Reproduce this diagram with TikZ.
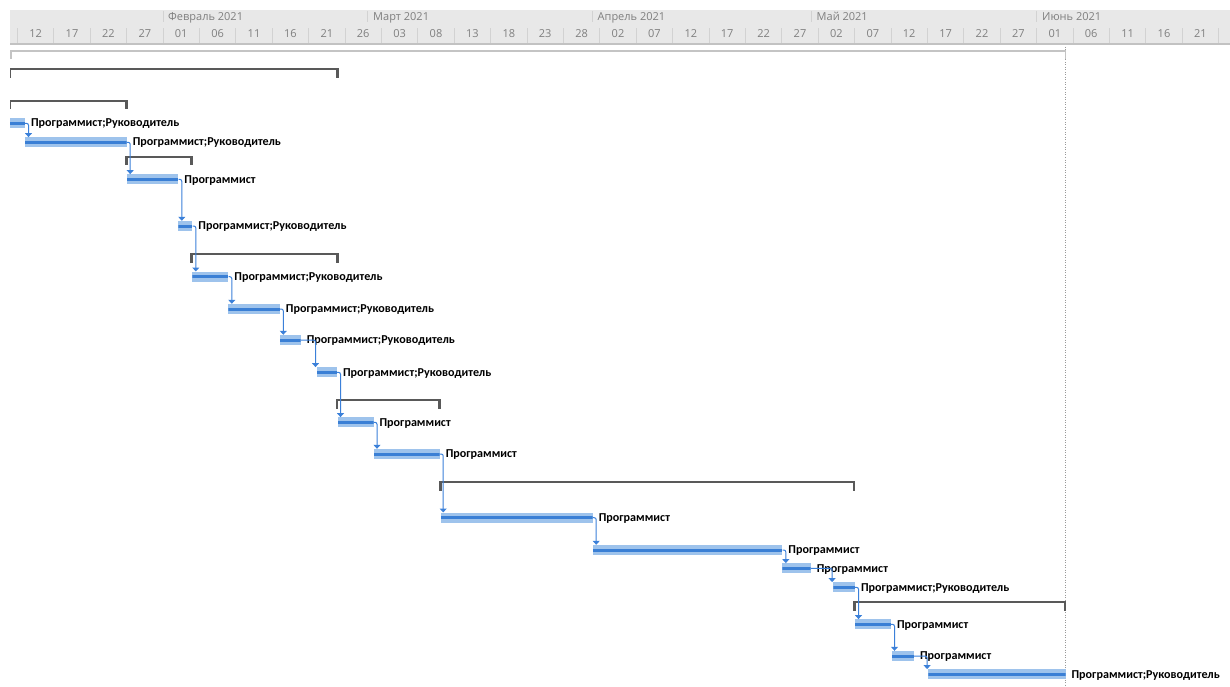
\documentclass[tikz,border=0pt]{standalone}
\usepackage{fontspec}
\usetikzlibrary{arrows.meta,calc}
\newfontfamily\lblfont{Carlito}
\newfontfamily\hdrfont{Open Sans}
\definecolor{barlight}{HTML}{9EC3EC}
\definecolor{bardark}{HTML}{3A7FD5}
\definecolor{conncol}{HTML}{3B80D9}
\definecolor{sumcol}{HTML}{595959}
\definecolor{projcol}{HTML}{C4C4C4}
\definecolor{hdrbg}{HTML}{E8E8E8}
\definecolor{hdrtxt}{HTML}{7F7F7F}
\definecolor{hdrdiv}{HTML}{D2D2D2}
\definecolor{hdrline}{HTML}{C2C2C2}
\tikzset{
  taskbar/.style={rectangle, inner sep=0pt, minimum height=10pt, fill=barlight,
    path picture={\fill[bardark] ([yshift=-1.5pt]path picture bounding box.west) rectangle ([yshift=1.5pt]path picture bounding box.east);}},
  lbl/.style={inner sep=0pt, anchor=base west, text=black, font=\lblfont\bfseries\fontsize{12.1}{14}\selectfont},
  conn/.style={draw=conncol, line width=1pt, rounded corners=2pt, -{Triangle[width=7pt,length=4pt]}},
  sumbar/.style={rectangle, inner sep=0pt, minimum height=2pt, fill=sumcol},
  sumtick/.style={fill=sumcol},
  monlbl/.style={inner sep=0pt, anchor=base west, text=hdrtxt, font=\hdrfont\fontsize{11}{13}\selectfont},
  daylbl/.style={inner sep=0pt, anchor=base, text=hdrtxt, font=\hdrfont\fontsize{11}{13}\selectfont},
  hdrsep/.style={draw=hdrdiv, line width=0.9pt},
  projbar/.style={draw=projcol, line width=1.8pt},
  finline/.style={draw=black!40, line width=0.9pt, dash pattern=on 1pt off 1.5pt},
}
\newcommand\mytask[5]{%
  \pgfmathsetmacro\tw{#3-#2}%
  \pgfmathsetmacro\tc{(#2+#3)/2}%
  \node[taskbar, minimum width=\tw pt] (#1) at (\tc,#4) {};%
  \node[lbl] (#1l) at ($(#1.east)+(5.7,3.7)$) {#5};%
}
\newcommand\mysum[4]{%
  \pgfmathsetmacro\sw{#3-#2+2.7}%
  \pgfmathsetmacro\sc{(#2+#3)/2}%
  \node[sumbar, minimum width=\sw pt] (#1) at (\sc,#4) {};%
  \fill[sumtick] (#2-1.35,#4-1) rectangle (#2+1.35,#4+8.5);%
  \fill[sumtick] (#3-1.35,#4-1) rectangle (#3+1.35,#4+8.5);%
}
\newcommand\conA[2]{\draw[conn] (#1.east) -| ($(#1.east|-#2.north)+(3.3,0)$);}
\newcommand\conG[2]{\draw[conn] (#1.east) -| ($(#2.north west)+(-1,0)$);}
\def\PR{Программист;Руководитель}
\def\P{Программист}
\begin{document}
\begin{tikzpicture}[x=1pt,y=-1pt]
\useasboundingbox (0,0) rectangle (1230,687);
% header
\fill[hdrbg] (10,10) rectangle (1230,44);
\draw[draw=hdrline, line width=1.3pt] (10,44) -- (1230,44);
\foreach \mx in {163,367.8,592.5,811,1036.7} {\draw[hdrsep] (\mx,11) -- (\mx,22.5);}
\node[monlbl] (mfeb) at (168,20.7) {Февраль 2021};
\node[monlbl] (mmar) at (373,20.7) {Март 2021};
\node[monlbl] (mapr) at (597.5,20.7) {Апрель 2021};
\node[monlbl] (mmay) at (816.5,20.7) {Май 2021};
\node[monlbl] (mjun) at (1042,20.7) {Июнь 2021};
\foreach \k in {0,...,33} {\pgfmathsetmacro\bx{163+7.28*(-20+5*\k)}\draw[hdrsep] (\bx,28.5) -- (\bx,43);}
\foreach \lab [count=\k from 0] in {12,17,22,27,01,06,11,16,21,26,03,08,13,18,23,28,02,07,12,17,22,27,02,07,12,17,22,27,01,06,11,16,21} {%
  \pgfmathsetmacro\cx{163+7.28*(-17.5+5*\k)}%
  \node[daylbl] (d\k) at (\cx,37.3) {\lab};}
% finish line
\draw[finline] (1065.7,47) -- (1065.7,687);
\begin{scope}
\clip (10,45) rectangle (1230,687);
\draw[projbar] (10.9,59) -- (10.9,51) -- (1065.5,51) -- (1065.5,59);
\mysum{s1}{10}{337.3}{69.3}
\mysum{s2}{10}{126.5}{101}
\mysum{s3}{126.3}{191.4}{156.7}
\mysum{s4}{191.4}{337.3}{254.3}
\mysum{s5}{337}{439.7}{400.3}
\mysum{s6}{440.3}{854}{482}
\mysum{s7}{854.7}{1065}{602}
\mytask{t1}{10}{25}{123.3}{\PR}
\mytask{t2}{25}{126.7}{142.3}{\PR}
\mytask{t3}{126.7}{178.3}{179.3}{\P}
\mytask{t4}{178.3}{192.3}{226}{\PR}
\mytask{t5}{192.3}{228.3}{276.7}{\PR}
\mytask{t6}{228.3}{279.8}{309}{\PR}
\mytask{t7}{279.8}{300.7}{340}{\PR}
\mytask{t8}{316.7}{337}{372.3}{\PR}
\mytask{t9}{337.7}{373.5}{422.3}{\P}
\mytask{t10}{374}{439.7}{454}{\P}
\mytask{t11}{440.5}{592.7}{517.7}{\P}
\mytask{t12}{592.7}{782.3}{550}{\P}
\mytask{t13}{782.3}{810.7}{568.3}{\P}
\mytask{t14}{833.3}{855}{587.3}{\PR}
\mytask{t15}{855}{891}{624.3}{\P}
\mytask{t16}{891.7}{914}{656}{\P}
\mytask{t17}{928.3}{1065.5}{674.3}{\PR}
\conA{t1}{t2}
\conA{t2}{t3}
\conA{t3}{t4}
\conA{t4}{t5}
\conA{t5}{t6}
\conA{t6}{t7}
\conG{t7}{t8}
\conA{t8}{t9}
\conA{t9}{t10}
\conA{t10}{t11}
\conA{t11}{t12}
\conA{t12}{t13}
\conG{t13}{t14}
\conA{t14}{t15}
\conA{t15}{t16}
\conG{t16}{t17}
\end{scope}
\end{tikzpicture}
\end{document}
